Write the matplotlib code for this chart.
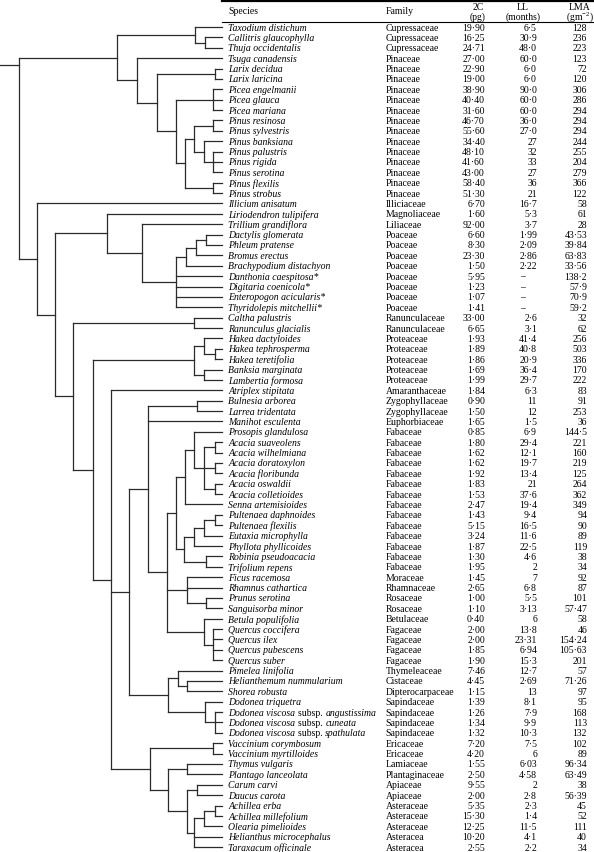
import matplotlib
matplotlib.use("Agg")
import matplotlib.pyplot as plt

plt.rcParams['font.family'] = ['Liberation Serif', 'DejaVu Serif']
plt.rcParams['mathtext.fontset'] = 'custom'
plt.rcParams['mathtext.rm'] = 'Liberation Serif'
plt.rcParams['mathtext.it'] = 'Liberation Serif:italic'

# ---------------- data ----------------
species = [
    "Taxodium distichum", "Callitris glaucophylla", "Thuja occidentalis", "Tsuga canadensis",
    "Larix decidua", "Larix laricina", "Picea engelmanii", "Picea glauca", "Picea mariana",
    "Pinus resinosa", "Pinus sylvestris", "Pinus banksiana", "Pinus palustris", "Pinus rigida",
    "Pinus serotina", "Pinus flexilis", "Pinus strobus", "Illicium anisatum",
    "Liriodendron tulipifera", "Trillium grandiflora", "Dactylis glomerata", "Phleum pratense",
    "Bromus erectus", "Brachypodium distachyon", "Danthonia caespitosa*", "Digitaria coenicola*",
    "Enteropogon acicularis*", "Thyridolepis mitchellii*", "Caltha palustris",
    "Ranunculus glacialis", "Hakea dactyloides", "Hakea tephrosperma", "Hakea teretifolia",
    "Banksia marginata", "Lambertia formosa", "Atriplex stipitata", "Bulnesia arborea",
    "Larrea tridentata", "Manihot esculenta", "Prosopis glandulosa", "Acacia suaveolens",
    "Acacia wilhelmiana", "Acacia doratoxylon", "Acacia floribunda", "Acacia oswaldii",
    "Acacia colletioides", "Senna artemisioides", "Pultenaea daphnoides", "Pultenaea flexilis",
    "Eutaxia microphylla", "Phyllota phyllicoides", "Robinia pseudoacacia", "Trifolium repens",
    "Ficus racemosa", "Rhamnus cathartica", "Prunus serotina", "Sanguisorba minor",
    "Betula populifolia", "Quercus coccifera", "Quercus ilex", "Quercus pubescens",
    "Quercus suber", "Pimelea linifolia", "Helianthemum nummularium", "Shorea robusta",
    "Dodonea triquetra", "Dodonea viscosa subsp. angustissima", "Dodonea viscosa subsp. cuneata",
    "Dodonea viscosa subsp. spathulata", "Vaccinium corymbosum", "Vaccinium myrtilloides",
    "Thymus vulgaris", "Plantago lanceolata", "Carum carvi", "Daucus carota", "Achillea erba",
    "Achillea millefolium", "Olearia pimelioides", "Helianthus microcephalus",
    "Taraxacum officinale",
]

families = (["Cupressaceae"] * 3 + ["Pinaceae"] * 14 + ["Illiciaceae", "Magnoliaceae", "Liliaceae"]
            + ["Poaceae"] * 8 + ["Ranunculaceae"] * 2 + ["Proteaceae"] * 5
            + ["Amaranthaceae", "Zygophyllaceae", "Zygophyllaceae", "Euphorbiaceae"]
            + ["Fabaceae"] * 14 + ["Moraceae", "Rhamnaceae", "Rosaceae", "Rosaceae", "Betulaceae"]
            + ["Fagaceae"] * 4 + ["Thymeleaceae", "Cistaceae", "Dipterocarpaceae"]
            + ["Sapindaceae"] * 4 + ["Ericaceae"] * 2 + ["Lamiaceae", "Plantaginaceae"]
            + ["Apiaceae"] * 2 + ["Asteraceae"] * 3 + ["Asteracea"] * 2)

genome_2c = ["19.90", "16.25", "24.71", "27.00", "22.90", "19.00", "38.90", "40.40", "31.60",
             "46.70", "55.60", "34.40", "48.10", "41.60", "43.00", "58.40", "51.30", "6.70",
             "1.60", "92.00", "6.60", "8.30", "23.30", "1.50", "5.95", "1.23", "1.07", "1.41",
             "33.00", "6.65", "1.93", "1.89", "1.86", "1.69", "1.99", "1.84", "0.90", "1.50",
             "1.65", "0.85", "1.80", "1.62", "1.62", "1.92", "1.83", "1.53", "2.47", "1.43",
             "5.15", "3.24", "1.87", "1.30", "1.95", "1.45", "2.65", "1.00", "1.10", "0.40",
             "2.00", "2.00", "1.85", "1.90", "7.46", "4.45", "1.15", "1.39", "1.26", "1.34",
             "1.32", "7.20", "4.20", "1.55", "2.50", "9.55", "2.00", "5.35", "15.30", "12.25",
             "10.20", "2.55"]

leaf_life = ["6.5", "30.9", "48.0", "60.0", "6.0", "6.0", "90.0", "60.0", "60.0", "36.0",
             "27.0", "27", "32", "33", "27", "36", "21", "16.7", "5.3", "3.7", "1.99", "2.09",
             "2.86", "2.22", "–", "–", "–", "–", "2.6", "3.1", "41.4", "40.8", "20.9", "36.4",
             "29.7", "6.3", "11", "12", "1.5", "6.9", "29.4", "12.1", "19.7", "13.4", "21",
             "37.6", "19.4", "9.4", "16.5", "11.6", "22.5", "4.6", "2", "7", "6.8", "5.5",
             "3.13", "6", "13.8", "23.31", "6.94", "15.3", "12.7", "2.69", "13", "8.1", "7.9",
             "9.9", "10.3", "7.5", "6", "6.03", "4.58", "2", "2.8", "2.3", "1.4", "11.5", "4.1",
             "2.2"]

lma = ["128", "236", "223", "123", "72", "120", "306", "286", "294", "294", "294", "244", "255",
       "204", "279", "366", "122", "58", "61", "28", "43.53", "39.84", "63.83", "33.56",
       "138.2", "57.9", "70.9", "59.2", "32", "62", "256", "503", "336", "170", "222", "83",
       "91", "253", "36", "144.5", "221", "160", "219", "125", "264", "362", "349", "94", "90",
       "89", "119", "38", "34", "92", "87", "101", "57.47", "58", "46", "154.24", "105.63",
       "201", "57", "71.26", "97", "95", "168", "113", "132", "102", "89", "96.34", "63.49",
       "38", "56.39", "45", "52", "111", "40", "34"]

col_headers = ["Species", "Family"]
num_headers = [("2C", "(pg)"), ("LL", "(months)"), ("LMA", "(gm$^{-2}$)")]

# Tree topology: (node depth, [children]); integers are species rows.
fabaceae = (176, [(185, [(194, [39, (204, [(215, [40, 41]), (215, [42, 43]), (215, [44, 45])])]), 46]),
                  (184, [(194, [(204, [(215, [47, 48]), 49]), 50]), (206, [51, 52])])])
rosales = (187, [53, 54, (206, [55, 56])])
fagales = (204, [57, (213, [58, 59, 60, 61])])
malvids = (168, [(178, [62, (187, [63, 64])]), (205, [65, (215, [66, 67, 68])])])
asterids = (150, [(213, [69, 70]),
                  (168, [(187, [71, 72]),
                         (187, [(197, [73, 74]), (194, [(204, [(215, [75, 76]), 77]), 78, 79])])])])
eudicots = (73, [(194, [28, 29]),
                 (93, [(194, [(204, [30, (215, [31, 32])]), (204, [33, 34])]),
                       (111, [35,
                              (129, [(148, [(197, [36, 37]), 38, (167, [fabaceae, rosales, fagales])]),
                                     malvids]),
                              asterids])])])
monocots = (107, [18, (142, [19, (176, [(186, [(196, [(206, [20, 21]), 22]), 23]), 24, 25, 26, 27])])])
angiosperms = (37, [17, (55, [monocots, eudicots])])
conifers = (117, [(195, [0, (205, [1, 2])]),
                  (137, [3, (157, [(215, [4, 5]),
                                   (176, [(213, [6, 7, 8]),
                                          (185, [(194, [(213, [9, 10]), (204, [11, (213, [12, 13, 14])])]),
                                                 (213, [15, 16])])])])])])
tree = (19, [conifers, angiosperms])
root_stem_row = 3.66

# ---------------- layout ----------------
W, H = 594, 853
fig = plt.figure(figsize=(W / 100, H / 100), dpi=100)
ax = fig.add_axes([0, 0, 1, 1])
ax.set_xlim(0, W)
ax.set_ylim(H, 0)
ax.axis('off')

ROW0, DY = 28.0, 10.38
TIP_X = 222
FS = 7.0
LINE_C = '#2b2b2b'
LW = 0.9


def row_y(i):
    return ROW0 + i * DY


def draw(node):
    if isinstance(node, int):
        return TIP_X, row_y(node)
    x, children = node
    pts = [draw(c) for c in children]
    ys = [p[1] for p in pts]
    for cx, cy in pts:
        ax.plot([x, cx], [cy, cy], color=LINE_C, lw=LW, solid_capstyle='projecting')
    ax.plot([x, x], [min(ys), max(ys)], color=LINE_C, lw=LW, solid_capstyle='projecting')
    return x, (ys[0] + ys[-1]) / 2


rx, ry = draw(tree)
ax.plot([0, rx], [row_y(root_stem_row)] * 2, color=LINE_C, lw=LW, solid_capstyle='projecting')

# table rules
ax.plot([TIP_X, W], [1.5, 1.5], color='black', lw=1.6)
ax.plot([TIP_X, W], [22.8, 22.8], color='black', lw=0.8)

X_SP, X_FAM = 228.5, 385.5
X_2C, X_LL, X_LMA = 485, 537, 587
HC_2C, HC_LL, HC_LMA = 478, 523, 580

ax.text(X_SP, 11.7, col_headers[0], fontsize=FS, va='center', ha='left')
ax.text(X_FAM, 11.7, col_headers[1], fontsize=FS, va='center', ha='left')
for (h1, h2), xc in zip(num_headers, [HC_2C, HC_LL, HC_LMA]):
    ax.text(xc, 7.0, h1, fontsize=FS, va='center', ha='center')
    ax.text(xc, 16.8, h2, fontsize=FS, va='center', ha='center')

fig.canvas.draw()
renderer = fig.canvas.get_renderer()


def dot(s):
    return s.replace('.', '\u00b7')


for i, name in enumerate(species):
    y = row_y(i)
    if ' subsp. ' in name:
        a, b = name.split(' subsp. ')
        parts = [(a + ' ', 'italic'), ('subsp. ', 'normal'), (b, 'italic')]
        x = X_SP
        for txt, st in parts:
            t = ax.text(x, y, txt, fontsize=FS, style=st, va='center', ha='left')
            bb = t.get_window_extent(renderer)
            x += bb.width
    else:
        ax.text(X_SP, y, name, fontsize=FS, style='italic', va='center', ha='left')
    ax.text(X_FAM, y, families[i], fontsize=FS, va='center', ha='left')
    ax.text(X_2C, y, dot(genome_2c[i]), fontsize=FS, va='center', ha='right')
    if leaf_life[i] == '–':
        ax.text(HC_LL, y, '–', fontsize=FS, va='center', ha='center')
    else:
        ax.text(X_LL, y, dot(leaf_life[i]), fontsize=FS, va='center', ha='right')
    ax.text(X_LMA, y, dot(lma[i]), fontsize=FS, va='center', ha='right')

fig.savefig('out.png', dpi=100)
